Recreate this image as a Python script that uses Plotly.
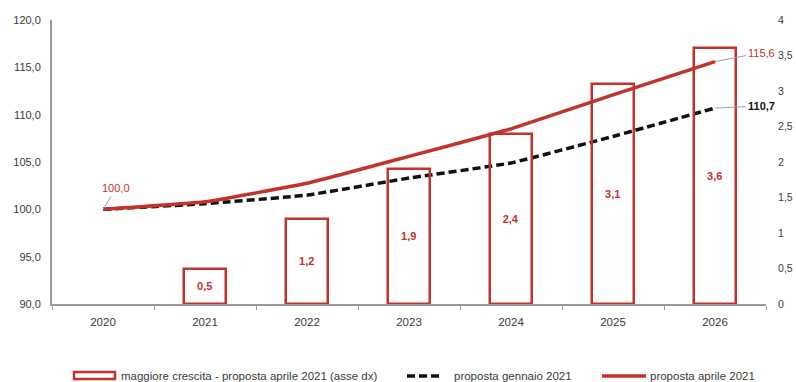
import plotly.graph_objects as go

# Anni e serie
anni = ["2020", "2021", "2022", "2023", "2024", "2025", "2026"]
proposta_gennaio = [100.0, 100.6, 101.5, 103.3, 104.9, 107.7, 110.7]
proposta_aprile = [100.0, 100.8, 102.75, 105.6, 108.5, 112.1, 115.6]
anni_crescita = ["2021", "2022", "2023", "2024", "2025", "2026"]
maggiore_crescita = [0.5, 1.2, 1.9, 2.4, 3.1, 3.6]

ROSSO = "#C3322B"
NERO = "#111111"
GRIGIO_TESTO = "#3a3a3a"
GRIGIO_ASSE = "#9a9a9a"
FONT = "Liberation Sans"

W, H = 796, 382
L, R, T, B = 52, 30, 20, 78


def px(x):
    return (x - L) / (W - L - R)


def py(y):
    return (H - B - y) / (H - T - B)


fig = go.Figure()

# Barre (asse destro)
fig.add_trace(go.Bar(
    x=anni_crescita, y=maggiore_crescita, yaxis="y2",
    width=0.42,
    marker=dict(color="rgba(255,255,255,0)", line=dict(color=ROSSO, width=2.5)),
    texttemplate="%{y:.1f}", textposition="inside", insidetextanchor="middle",
    textfont=dict(color=ROSSO, size=11, family=FONT, weight="bold"),
    constraintext="none", cliponaxis=False, showlegend=False,
))

# Linee (asse sinistro)
fig.add_trace(go.Scatter(
    x=anni, y=proposta_gennaio, mode="lines",
    line=dict(color=NERO, width=3.5, dash="8px,4px", shape="spline", smoothing=0.3),
    showlegend=False,
))
fig.add_trace(go.Scatter(
    x=anni, y=proposta_aprile, mode="lines",
    line=dict(color=ROSSO, width=3.5, shape="spline", smoothing=0.3),
    showlegend=False,
))


# Etichette dei valori estremi
def etichetta(i, serie, colore, ax, ay, grassetto=False):
    testo = f"{serie[i]:.1f}".replace(".", ",")
    if grassetto:
        testo = f"<b>{testo}</b>"
    fig.add_annotation(
        x=i, y=serie[i], xref="x", yref="y",
        text=testo,
        showarrow=True, arrowhead=0, arrowwidth=1, arrowcolor="#a0a0a0",
        ax=ax, ay=ay, standoff=0,
        font=dict(color=colore, size=11, family=FONT),
    )


etichetta(0, proposta_aprile, ROSSO, 13, -21)
etichetta(6, proposta_aprile, ROSSO, 46, -9)
etichetta(6, proposta_gennaio, NERO, 46, -2, grassetto=True)

# Legenda in basso
ly = 376
fig.add_shape(type="rect", xref="paper", yref="paper",
              x0=px(74), x1=px(115), y0=py(379), y1=py(372),
              line=dict(color=ROSSO, width=2.5), fillcolor="white")
fig.add_shape(type="line", xref="paper", yref="paper",
              x0=px(407), x1=px(442), y0=py(ly), y1=py(ly),
              line=dict(color=NERO, width=3.5, dash="8px,4px"))
fig.add_shape(type="line", xref="paper", yref="paper",
              x0=px(602), x1=px(646), y0=py(ly), y1=py(ly),
              line=dict(color=ROSSO, width=3.5))
for x0, testo in [(119, "maggiore crescita - proposta aprile 2021 (asse dx)"),
                  (452, "proposta gennaio 2021"),
                  (648, "proposta aprile 2021")]:
    fig.add_annotation(x=px(x0), y=py(ly), xref="paper", yref="paper",
                       xanchor="left", yanchor="middle", showarrow=False,
                       text=testo, font=dict(color=GRIGIO_TESTO, size=11.5, family=FONT))

fig.update_layout(
    width=W, height=H,
    margin=dict(l=L, r=R, t=T, b=B, autoexpand=False),
    paper_bgcolor="white", plot_bgcolor="white",
    separators=",.",
    font=dict(family=FONT, size=11, color=GRIGIO_TESTO),
    bargap=0,
    xaxis=dict(
        type="category", categoryorder="array", categoryarray=anni,
        range=[-0.5, 6.5], automargin=False,
        showline=True, linecolor=GRIGIO_ASSE, linewidth=2,
        ticks="outside", tickson="boundaries", ticklen=4, tickcolor=GRIGIO_ASSE,
        ticklabelstandoff=6,
        tickfont=dict(size=11.5, color=GRIGIO_TESTO),
        showgrid=False, zeroline=False,
    ),
    yaxis=dict(
        range=[90, 120], dtick=5, tickformat=".1f", automargin=False,
        showline=True, linecolor=GRIGIO_ASSE, linewidth=2,
        ticks="outside", ticklen=7, tickcolor="rgba(0,0,0,0)",
        tickfont=dict(size=11, color=GRIGIO_TESTO),
        showgrid=False, zeroline=False,
    ),
    yaxis2=dict(
        range=[0, 4], dtick=0.5, overlaying="y", side="right", automargin=False,
        showline=False,
        ticks="outside", ticklen=5, ticklabelstandoff=4, tickcolor="rgba(0,0,0,0)",
        tickfont=dict(size=10.5, color=GRIGIO_TESTO),
        showgrid=False, zeroline=False,
    ),
)

fig.write_html("out.html")
